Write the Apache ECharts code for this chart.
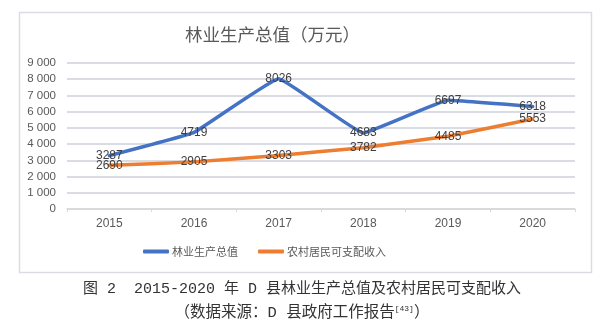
<!DOCTYPE html>
<html>
<head>
<meta charset="utf-8">
<script src="https://cdn.jsdelivr.net/npm/echarts@6/dist/echarts.min.js"></script>
<style>
  html, body { margin: 0; padding: 0; background: #fff; }
  #chart { width: 604px; height: 331px; }
</style>
</head>
<body>
<div id="chart"></div>
<script>
// 2015-2020 forestry output and rural disposable income, D county
const years = ['2015', '2016', '2017', '2018', '2019', '2020'];
const forestryOutput = [3287, 4719, 8026, 4683, 6697, 6318];
const ruralIncome = [2690, 2905, 3303, 3782, 4485, 5553];
const yTicks = { min: 0, max: 9000, interval: 1000 };

const gray = '#595959';
const sans = '"Noto Sans CJK SC", "Noto Sans", sans-serif';
const latin = '"Liberation Sans", Arial, sans-serif';
const captionFont = '"Liberation Mono", "Noto Sans CJK SC", monospace';

function fmtThousands(v) {
  const s = String(v);
  return s.length > 3 ? s.slice(0, s.length - 3) + ' ' + s.slice(-3) : s;
}

const chart = echarts.init(document.getElementById('chart'), null, { renderer: 'canvas' });

const lineSeries = (name, data, color) => ({
  name,
  type: 'line',
  data,
  smooth: 0.08,
  symbol: 'circle',
  symbolSize: 0,
  lineStyle: { color, width: 3.5, cap: 'round', join: 'round' },
  itemStyle: { color },
  label: {
    show: true,
    position: 'inside',
    color: '#404040',
    fontSize: 12,
    fontFamily: latin
  },
  z: 3
});

chart.setOption({
  animation: false,
  backgroundColor: '#fff',
  textStyle: { fontFamily: sans },
  graphic: [
    {
      type: 'rect',
      shape: { x: 19.5, y: 12.5, width: 572, height: 260 },
      style: { fill: 'none', stroke: '#d9dde3', lineWidth: 1.5 },
      z: 0
    },
    {
      type: 'text',
      left: 185, top: 26,
      style: { text: '林业生产总值（万元）', fill: gray, font: '17.5px ' + sans }
    },
    {
      type: 'text',
      left: 'center', top: 282,
      style: { text: '图 2  2015-2020 年 D 县林业生产总值及农村居民可支配收入', fill: '#333', font: '15px ' + captionFont }
    },
    {
      type: 'text',
      left: 'center', top: 305,
      style: {
        text: '（数据来源：D 县政府工作报告{sup|[43]}）',
        fill: '#333',
        font: '15.5px ' + captionFont,
        rich: { sup: { fontSize: 8, fontFamily: captionFont, verticalAlign: 'top', padding: [0, 0, 8, 0], fill: '#333' } }
      }
    }
  ],
  grid: { left: 67, right: 29, top: 63, bottom: 122 },
  legend: {
    top: 246,
    left: 143,
    padding: 0,
    itemWidth: 26,
    itemHeight: 4,
    itemGap: 20,
    icon: 'roundRect',
    textStyle: { color: gray, fontSize: 11, fontFamily: sans, padding: [0, 0, 0, -2] },
    data: ['林业生产总值', '农村居民可支配收入']
  },
  xAxis: {
    type: 'category',
    data: years,
    boundaryGap: true,
    axisLine: { lineStyle: { color: '#d9d9d9', width: 1.5 } },
    axisTick: { show: true, length: 3, lineStyle: { color: '#d9d9d9' } },
    axisLabel: { color: gray, fontSize: 12, margin: 9, fontFamily: latin }
  },
  yAxis: {
    type: 'value',
    min: yTicks.min,
    max: yTicks.max,
    interval: yTicks.interval,
    axisLine: { show: false },
    axisTick: { show: false },
    axisLabel: { color: gray, fontSize: 11.5, margin: 11, formatter: fmtThousands, fontFamily: latin },
    splitLine: { lineStyle: { color: '#d9dde3', width: 2 } }
  },
  series: [
    lineSeries('林业生产总值', forestryOutput, '#4472c4'),
    lineSeries('农村居民可支配收入', ruralIncome, '#ed7d31')
  ]
});
</script>
</body>
</html>
